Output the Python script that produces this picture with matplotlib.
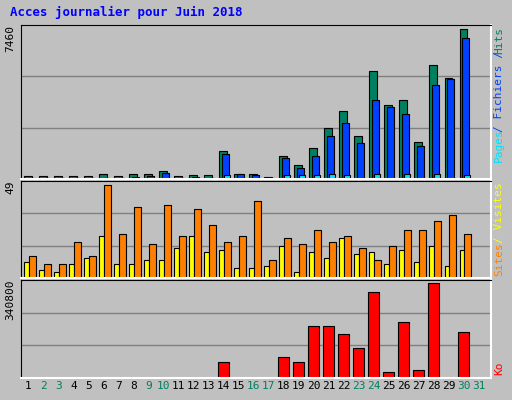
import numpy as np
import matplotlib
matplotlib.use("Agg")
import matplotlib.pyplot as plt

days = list(range(1, 32))
weekend = [2, 3, 9, 10, 16, 17, 23, 24, 30, 31]

hits = [130, 130, 130, 130, 130, 230, 130, 230, 230, 377, 130, 180, 180, 1360, 230,
        230, 80, 1115, 672, 1508, 2492, 3280, 2100, 5250, 3575, 3820, 1804, 5543, 4903, 7265]
files = [40, 40, 40, 40, 40, 60, 40, 100, 150, 280, 40, 100, 40, 1213, 230,
         180, 40, 1017, 525, 1115, 2100, 2690, 1755, 3820, 3476, 3132, 1607, 4558, 4853, 6822]
pages = [30, 30, 30, 30, 30, 30, 30, 30, 30, 30, 30, 30, 30, 180, 30,
         30, 30, 180, 180, 180, 230, 180, 30, 230, 30, 230, 30, 260, 30, 180]
visits = [8, 4, 3, 7, 10, 21, 7, 7, 9, 9, 15, 21, 13, 14, 5,
          5, 6, 16, 3, 13, 10, 20, 12, 13, 7, 14, 8, 16, 6, 14]
sites = [11, 7, 7, 18, 11, 47, 22, 36, 17, 37, 21, 35, 27, 18, 21,
         39, 9, 20, 17, 24, 18, 21, 15, 9, 16, 24, 24, 29, 32, 22]
ko = [1500, 1500, 1500, 1500, 1500, 1500, 1500, 1500, 1500, 1500, 1500, 1500, 1500, 55200, 1500,
      1500, 1500, 73200, 55200, 181200, 181200, 152400, 105600, 300000, 19200, 195600, 26400, 328800, 1500, 159600]

max_hits, max_visits, max_ko = 7460, 49, 340800

plt.rcParams['font.family'] = ['DejaVu Sans Mono']
bg = "#c0c0c0"
fig = plt.figure(figsize=(5.12, 4), dpi=100, facecolor=bg)
fig.text(0.02, 0.97, "Acces journalier pour Juin 2018", color="#0000ff",
         fontsize=9, fontweight="bold", va="center")

x = np.arange(1, 31)
xl = (0.5, 31.83)


def panel(rect, top):
    ax = fig.add_axes(rect, facecolor=bg)
    ax.set_xlim(*xl)
    ax.set_ylim(0, top)
    for g in (top / 3, 2 * top / 3):
        ax.axhline(g, color="#808080", lw=1, zorder=0)
    ax.set_xticks([])
    ax.set_yticks([])
    for s in ("top", "left"):
        ax.spines[s].set_color("black")
    for s in ("bottom", "right"):
        ax.spines[s].set_color("white")
        ax.spines[s].set_linewidth(1.5)
    ax.text(-0.012, 1.0, f"{top}", transform=ax.transAxes, rotation=90,
            ha="right", va="top", fontsize=8)
    return ax


def side(ax, y, s, color, va="top"):
    ax.text(1.006, y, s, transform=ax.transAxes, rotation=90, color=color,
            ha="left", va=va, fontsize=8)


kw = dict(align="edge", edgecolor="black", linewidth=0.8)

ax1 = panel([0.041, 0.5525, 0.918, 0.385], max_hits)
ax1.bar(x - 0.27, hits, 0.5, color="#008060", **kw)
ax1.bar(x - 0.13, files, 0.5, color="#0040ff", **kw)
ax1.bar(x + 0.0, pages, 0.45, color="#00e0ff", **kw)
side(ax1, 0.99, "Hits", "#008060")
side(ax1, 0.83, "/ Fichiers /", "#0040ff")
side(ax1, 0.33, "Pages", "#00e0ff")

ax2 = panel([0.041, 0.305, 0.918, 0.2425], max_visits)
ax2.bar(x - 0.27, visits, 0.3, color="#ffff00", **kw)
ax2.bar(x + 0.03, sites, 0.47, color="#ff8000", **kw)
side(ax2, 0.99, "/ Visites", "#ffff00")
side(ax2, 0.02, "Sites", "#ff8000", va="bottom")

ax3 = panel([0.041, 0.055, 0.918, 0.245], max_ko)
ax3.bar(x - 0.35, ko, 0.7, color="#ff0000", **kw)
side(ax3, 0.03, "Ko", "#ff0000", va="bottom")
for d in days:
    ax3.text(d, -0.03, str(d), transform=ax3.get_xaxis_transform(), ha="center", va="top",
             fontsize=8, color="#008060" if d in weekend else "black")

fig.savefig("out.png", dpi=100, facecolor=bg)
